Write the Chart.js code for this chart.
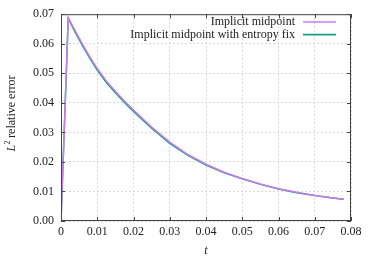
<!DOCTYPE html>
<html>
<head>
<meta charset="utf-8">
<script src="https://cdn.jsdelivr.net/npm/chart.js@4"></script>
<style>
  html, body { margin: 0; padding: 0; background: #fff; }
  #wrap { width: 374px; height: 262px; }
</style>
</head>
<body>
<div id="wrap"><canvas id="chart" width="374" height="262"></canvas></div>
<script>
var times = [0, 0.002, 0.004, 0.006, 0.008, 0.01, 0.0125, 0.015, 0.0175, 0.02, 0.025, 0.03, 0.035, 0.04, 0.045, 0.05, 0.055, 0.06, 0.065, 0.07, 0.075, 0.078];
var midpoint = [0, 0.0688, 0.0642, 0.0597, 0.0555, 0.0516, 0.0474, 0.0439, 0.0406, 0.0376, 0.0318, 0.0267, 0.0225, 0.0192, 0.0165, 0.0144, 0.0125, 0.0109, 0.0097, 0.0086, 0.0078, 0.0074];
var entropyFix = [0, 0.0686, 0.0637, 0.0592, 0.0550, 0.0511, 0.0469, 0.0434, 0.0401, 0.0371, 0.0314, 0.0263, 0.0222, 0.0189, 0.0163, 0.0143, 0.0124, 0.0108, 0.0096, 0.0086, 0.0078, 0.0074];
var labels = ['Implicit midpoint', 'Implicit midpoint with entropy fix'];
var colors = ['rgb(200, 125, 235)', 'rgb(22, 158, 132)'];

function toPoints(values) {
  return times.map(function (t, i) { return { x: t, y: values[i] }; });
}

var serif = "'Liberation Serif', 'DejaVu Serif', serif";

// gnuplot style: full border with inward ticks, legend in the top right corner
var framePlugin = {
  id: 'frame',
  afterDraw: function (chart) {
    var ctx = chart.ctx, a = chart.chartArea;
    var xs = chart.scales.x, ys = chart.scales.y;
    ctx.save();
    ctx.strokeStyle = '#444';
    ctx.lineWidth = 1;
    ctx.strokeRect(a.left + 0.5, a.top + 0.5, a.right - a.left - 1, a.bottom - a.top - 1);
    ctx.beginPath();
    xs.ticks.forEach(function (tk) {
      var px = Math.round(xs.getPixelForValue(tk.value)) + 0.5;
      ctx.moveTo(px, a.bottom); ctx.lineTo(px, a.bottom - 4);
      ctx.moveTo(px, a.top); ctx.lineTo(px, a.top + 4);
    });
    ys.ticks.forEach(function (tk) {
      var py = Math.round(ys.getPixelForValue(tk.value)) + 0.5;
      ctx.moveTo(a.left, py); ctx.lineTo(a.left + 4, py);
      ctx.moveTo(a.right, py); ctx.lineTo(a.right - 4, py);
    });
    ctx.stroke();

    // legend
    ctx.font = '12px ' + serif;
    ctx.textAlign = 'right';
    ctx.textBaseline = 'middle';
    chart.data.datasets.forEach(function (ds, i) {
      var y = 22 + i * 12.6;
      ctx.fillStyle = '#222';
      ctx.fillText(ds.label, 295, y);
      ctx.strokeStyle = ds.borderColor;
      ctx.lineWidth = 1.6;
      ctx.beginPath();
      ctx.moveTo(303, y); ctx.lineTo(336, y);
      ctx.stroke();
    });

    // y title with italic L and superscript 2
    var cy = (a.top + a.bottom) / 2 - 4;
    ctx.translate(12, cy);
    ctx.rotate(-Math.PI / 2);
    ctx.textAlign = 'left';
    ctx.textBaseline = 'middle';
    ctx.fillStyle = '#222';
    var rest = ' relative error';
    ctx.font = 'italic 12px ' + serif;
    var wL = ctx.measureText('L').width;
    ctx.font = '8px ' + serif;
    var w2 = ctx.measureText('2').width;
    ctx.font = '12px ' + serif;
    var wR = ctx.measureText(rest).width;
    var x0 = -(wL + w2 + wR) / 2;
    ctx.font = 'italic 12px ' + serif;
    ctx.fillText('L', x0, 0);
    ctx.font = '8px ' + serif;
    ctx.fillText('2', x0 + wL + 0.5, -4);
    ctx.font = '12px ' + serif;
    ctx.fillText(rest, x0 + wL + w2, 0);
    ctx.restore();
  }
};

var chart = new Chart(document.getElementById('chart').getContext('2d'), {
  type: 'line',
  data: {
    datasets: [
      { label: labels[0], data: toPoints(midpoint), borderColor: colors[0], borderWidth: 1.5, pointRadius: 0, tension: 0, fill: false },
      { label: labels[1], data: toPoints(entropyFix), borderColor: colors[1], borderWidth: 1.5, pointRadius: 0, tension: 0, fill: false }
    ]
  },
  options: {
    responsive: false,
    animation: false,
    layout: { padding: { left: 0, top: 12, right: 23, bottom: 0 } },
    plugins: { legend: { display: false }, tooltip: { enabled: false } },
    scales: {
      x: {
        type: 'linear', min: 0, max: 0.08,
        ticks: {
          stepSize: 0.01, color: '#222', font: { family: serif, size: 12 }, padding: 4,
          callback: function (v) { return v === 0 ? '0' : v.toFixed(2); }
        },
        grid: { color: '#d8d8d8', drawTicks: false },
        border: { display: false, dash: [2, 2] },
        title: { display: true, text: 't', color: '#222', font: { family: serif, size: 12, style: 'italic' }, padding: { top: 2, bottom: 4 } },
        afterFit: function (s) { s.height = 41; }
      },
      y: {
        min: 0, max: 0.07,
        ticks: {
          stepSize: 0.01, color: '#222', font: { family: serif, size: 12 }, padding: 7,
          callback: function (v) { return v.toFixed(2); }
        },
        grid: { color: '#d8d8d8', drawTicks: false },
        border: { display: false, dash: [2, 2] },
        title: { display: false },
        afterFit: function (s) { s.width = 61; }
      }
    }
  },
  plugins: [framePlugin]
});
</script>
</body>
</html>
